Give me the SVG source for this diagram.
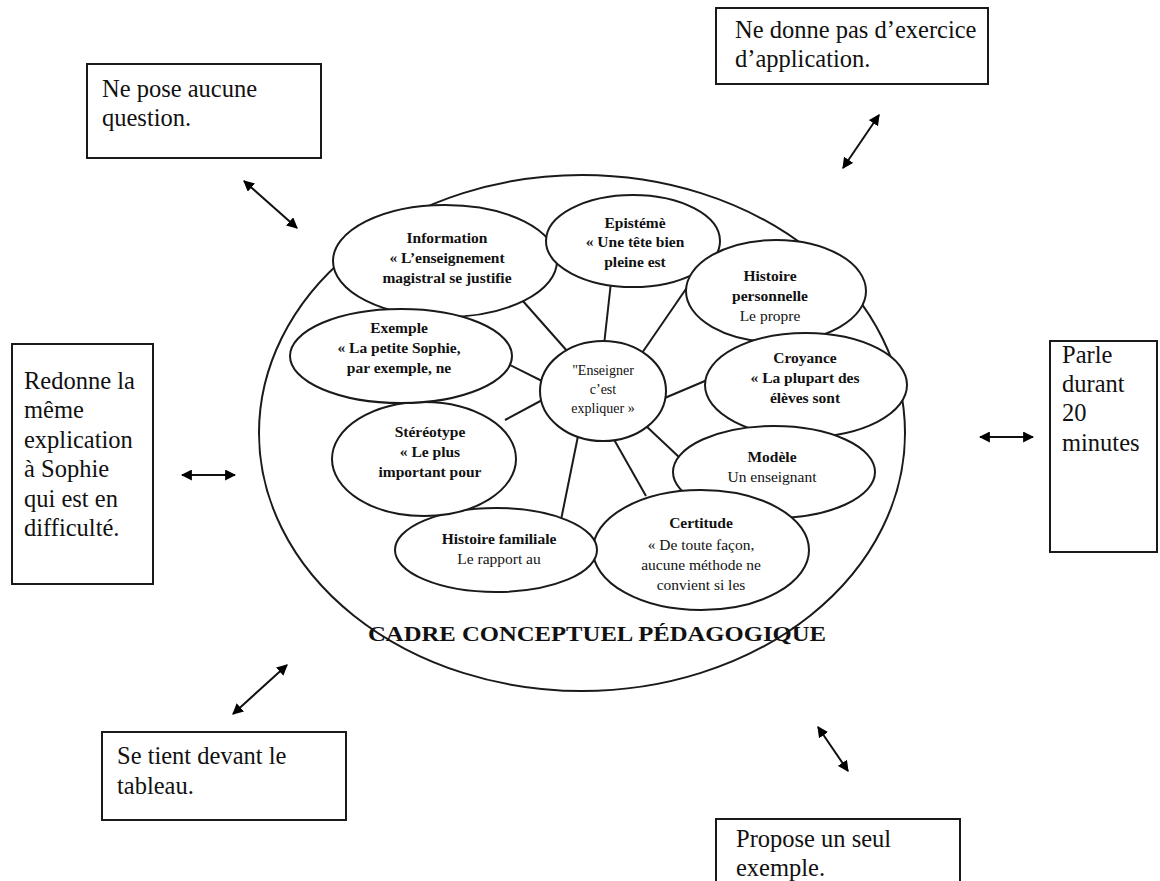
<svg xmlns="http://www.w3.org/2000/svg" width="1160" height="881" viewBox="0 0 1160 881">
<defs>
<marker id="ah" viewBox="0 0 10 10" refX="9" refY="5" markerWidth="11" markerHeight="11" markerUnits="userSpaceOnUse" orient="auto-start-reverse">
<path d="M0,0 L10,5 L0,10 z" fill="#000"/>
</marker>
</defs>
<style>
.box{fill:#fff;stroke:#1a1a1a;stroke-width:2}
.ell{fill:#fff;stroke:#1a1a1a;stroke-width:2}
.big{fill:none;stroke:#1a1a1a;stroke-width:2}
.bt{font-family:"Liberation Serif","Times New Roman",serif;font-size:24.5px;fill:#111}
.t{font-family:"Liberation Serif","Times New Roman",serif;font-size:15.5px;fill:#111;text-anchor:middle}
.b{font-weight:bold}
.spoke{stroke:#1a1a1a;stroke-width:2;fill:none}
.arr{stroke:#111;stroke-width:2;fill:none;marker-start:url(#ah);marker-end:url(#ah)}
.title{font-family:"Liberation Serif","Times New Roman",serif;font-size:22px;font-weight:bold;fill:#111;text-anchor:middle}
</style>
<rect width="1160" height="881" fill="#fff"/>

<g id="cadre">
<ellipse class="big" cx="582" cy="433" rx="323" ry="258"/>
<text class="title" x="597" y="641" textLength="458" lengthAdjust="spacingAndGlyphs">CADRE CONCEPTUEL PÉDAGOGIQUE</text>
</g>

<g id="connectors">
<line class="spoke" x1="568" y1="352" x2="522" y2="300"/>
<line class="spoke" x1="604" y1="345" x2="611" y2="282"/>
<line class="spoke" x1="642" y1="353" x2="688" y2="286"/>
<line class="spoke" x1="660" y1="400" x2="712" y2="378"/>
<line class="spoke" x1="645" y1="425" x2="680" y2="458"/>
<line class="spoke" x1="612" y1="436" x2="646" y2="496"/>
<line class="spoke" x1="578" y1="436" x2="561" y2="520"/>
<line class="spoke" x1="546" y1="398" x2="505" y2="420"/>
<line class="spoke" x1="546" y1="383" x2="500" y2="360"/>
<line class="arr" x1="244" y1="181" x2="297" y2="228"/>
<line class="arr" x1="879" y1="115" x2="843" y2="168"/>
<line class="arr" x1="182" y1="475" x2="235" y2="475"/>
<line class="arr" x1="980" y1="437" x2="1033" y2="437"/>
<line class="arr" x1="287" y1="665" x2="233" y2="714"/>
<line class="arr" x1="818" y1="727" x2="848" y2="771"/>
</g>

<g id="information">
<ellipse class="ell" cx="445" cy="261" rx="112" ry="56"/>
<text class="t b" x="447" y="243">Information</text>
<text class="t b" x="447" y="263">« L’enseignement</text>
<text class="t b" x="447" y="283">magistral se justifie</text>
</g>

<g id="episteme">
<ellipse class="ell" cx="633" cy="241" rx="87" ry="46"/>
<text class="t b" x="635" y="228">Epistémè</text>
<text class="t b" x="635" y="247">« Une tête bien</text>
<text class="t b" x="635" y="267">pleine est</text>
</g>

<g id="histoire-personnelle">
<ellipse class="ell" cx="776" cy="291" rx="90" ry="51"/>
<text class="t b" x="770" y="281">Histoire</text>
<text class="t b" x="770" y="301">personnelle</text>
<text class="t" x="770" y="321">Le propre</text>
</g>

<g id="croyance">
<ellipse class="ell" cx="806" cy="385" rx="101" ry="52"/>
<text class="t b" x="805" y="363">Croyance</text>
<text class="t b" x="805" y="383">« La plupart des</text>
<text class="t b" x="805" y="403">élèves sont</text>
</g>

<g id="modele">
<ellipse class="ell" cx="774" cy="472" rx="101" ry="46"/>
<text class="t b" x="772" y="462">Modèle</text>
<text class="t" x="772" y="482">Un enseignant</text>
</g>

<g id="certitude">
<ellipse class="ell" cx="701" cy="550" rx="108" ry="60"/>
<text class="t b" x="701" y="528">Certitude</text>
<text class="t" x="701" y="550">« De toute façon,</text>
<text class="t" x="701" y="570">aucune méthode ne</text>
<text class="t" x="701" y="590">convient si les</text>
</g>

<g id="histoire-familiale">
<ellipse class="ell" cx="496" cy="550" rx="101" ry="42"/>
<text class="t b" x="499" y="544">Histoire familiale</text>
<text class="t" x="499" y="564">Le rapport au</text>
</g>

<g id="stereotype">
<ellipse class="ell" cx="424" cy="459" rx="92" ry="57"/>
<text class="t b" x="430" y="437">Stéréotype</text>
<text class="t b" x="430" y="457">« Le plus</text>
<text class="t b" x="430" y="477">important pour</text>
</g>

<g id="exemple">
<ellipse class="ell" cx="401" cy="356" rx="111" ry="47"/>
<text class="t b" x="399" y="333">Exemple</text>
<text class="t b" x="399" y="353">« La petite Sophie,</text>
<text class="t b" x="399" y="373">par exemple, ne</text>
</g>

<g id="enseigner">
<ellipse class="ell" cx="603" cy="391" rx="63" ry="50"/>
<text class="t" x="603" y="375" style="font-size:14px">"Enseigner</text>
<text class="t" x="603" y="394" style="font-size:14px">c’est</text>
<text class="t" x="603" y="413" style="font-size:14px">expliquer »</text>
</g>

<g id="box-question">
<rect class="box" x="87" y="64" width="234" height="94"/>
<text class="bt" x="102" y="97">Ne pose aucune</text>
<text class="bt" x="102" y="126">question.</text>
</g>

<g id="box-exercice">
<rect class="box" x="716" y="8" width="272" height="76"/>
<text class="bt" x="735" y="38">Ne donne pas d’exercice</text>
<text class="bt" x="735" y="67">d’application.</text>
</g>

<g id="box-redonne">
<rect class="box" x="12" y="344" width="141" height="240"/>
<text class="bt" x="24" y="389">Redonne la</text>
<text class="bt" x="24" y="418">même</text>
<text class="bt" x="24" y="448">explication</text>
<text class="bt" x="24" y="477">à Sophie</text>
<text class="bt" x="24" y="507">qui est en</text>
<text class="bt" x="24" y="536">difficulté.</text>
</g>

<g id="box-parle">
<rect class="box" x="1050" y="341" width="107" height="211"/>
<text class="bt" x="1062" y="363">Parle</text>
<text class="bt" x="1062" y="392">durant</text>
<text class="bt" x="1062" y="421">20</text>
<text class="bt" x="1062" y="451">minutes</text>
</g>

<g id="box-tableau">
<rect class="box" x="102" y="732" width="244" height="88"/>
<text class="bt" x="117" y="764">Se tient devant le</text>
<text class="bt" x="117" y="794">tableau.</text>
</g>

<g id="box-exemple">
<rect class="box" x="716" y="819" width="244" height="70"/>
<text class="bt" x="736" y="847">Propose un seul</text>
<text class="bt" x="736" y="876">exemple.</text>
</g>
</svg>
